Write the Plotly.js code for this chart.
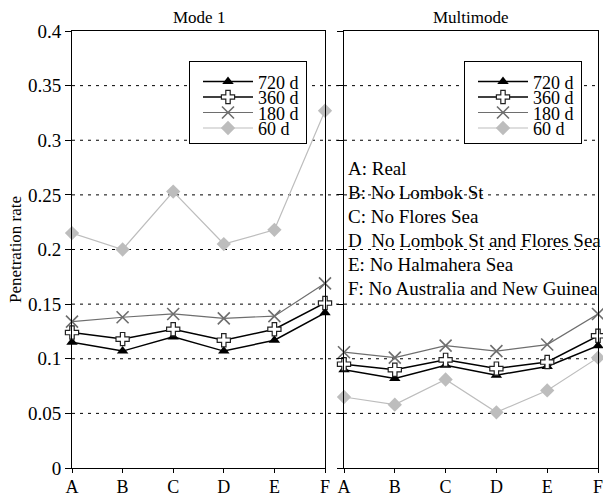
<!DOCTYPE html>
<html>
<head>
<meta charset="utf-8">
<script src="https://cdn.plot.ly/plotly-3.0.1.min.js"></script>
<style>html,body{margin:0;padding:0;background:#fff;}#chart{width:603px;height:500px;}</style>
</head>
<body>
<div id="chart"></div>
<script>
const categories = ['A', 'B', 'C', 'D', 'E', 'F'];
const seriesNames = ['720 d', '360 d', '180 d', '60 d'];

const mode1_720 = [0.115, 0.107, 0.120, 0.107, 0.117, 0.142];
const mode1_360 = [0.124, 0.118, 0.127, 0.117, 0.127, 0.151];
const mode1_180 = [0.134, 0.138, 0.141, 0.137, 0.139, 0.169];
const mode1_60  = [0.215, 0.200, 0.253, 0.205, 0.218, 0.327];

const multi_720 = [0.090, 0.082, 0.094, 0.085, 0.093, 0.112];
const multi_360 = [0.095, 0.090, 0.099, 0.091, 0.097, 0.121];
const multi_180 = [0.106, 0.101, 0.112, 0.107, 0.113, 0.141];
const multi_60  = [0.065, 0.058, 0.081, 0.051, 0.071, 0.101];

const panelTitles = ['Mode 1', 'Multimode'];
const caseLabels = ['A: Real', 'B: No Lombok St', 'C: No Flores Sea',
  'D\u00a0\u00a0No Lombok St and Flores Sea', 'E: No Halmahera Sea', 'F: No Australia and New Guinea'];
const yTicks = [0, 0.05, 0.1, 0.15, 0.2, 0.25, 0.3, 0.35, 0.4];
const gridValues = [0.05, 0.1, 0.15, 0.2, 0.25, 0.3, 0.35];

const FONT = 'Liberation Serif';

const styles = [
  {line: {color: '#000', width: 1.5}, marker: {symbol: 'triangle-up', size: 10, color: '#000'}},
  {line: {color: '#000', width: 1.5}, marker: {symbol: 'cross', size: 11, color: '#fff', line: {color: '#222', width: 1.2}}},
  {line: {color: '#6e6e6e', width: 1.2}, marker: {symbol: 'x-thin-open', size: 12, color: '#6e6e6e', line: {color: '#6e6e6e', width: 1.6}}},
  {line: {color: '#bdbdbd', width: 1.2}, marker: {symbol: 'diamond', size: 11, color: '#bdbdbd'}}
];

const mode1 = [mode1_720, mode1_360, mode1_180, mode1_60];
const multi = [multi_720, multi_360, multi_180, multi_60];

const traces = [];
mode1.forEach((vals, i) => {
  traces.push({x: categories, y: vals, type: 'scatter', mode: 'lines+markers', name: seriesNames[i],
    xaxis: 'x', yaxis: 'y', legend: 'legend', cliponaxis: false,
    line: styles[i].line, marker: styles[i].marker});
});
multi.forEach((vals, i) => {
  traces.push({x: categories, y: vals, type: 'scatter', mode: 'lines+markers', name: seriesNames[i],
    xaxis: 'x2', yaxis: 'y2', legend: 'legend2', cliponaxis: false,
    line: styles[i].line, marker: styles[i].marker});
});

const L = 72, T = 31, W = 603, H = 500, B = 32, R = 5;
const plotW = W - L - R, plotH = H - T - B;
const py = p => (H - B - p) / plotH;

const axisCommon = {
  showline: true, linecolor: '#000', linewidth: 1, mirror: true,
  ticks: 'outside', ticklen: 6, tickcolor: '#000', tickwidth: 1,
  showgrid: false, zeroline: false,
  tickfont: {family: FONT, size: 19, color: '#000'}
};
const xAxisExtra = {ticklen: 4, ticklabelstandoff: -2, tickfont: {family: FONT, size: 18, color: '#000'}};

const shapes = gridValues.map(v => ({
  type: 'line', xref: 'paper', yref: 'y', x0: 0, x1: 1, y0: v, y1: v,
  line: {color: '#000', width: 1, dash: '3px,5px'}, layer: 'below'
}));

const annotations = [];
panelTitles.forEach((t, i) => {
  annotations.push({text: t, xref: i === 0 ? 'x domain' : 'x2 domain', yref: 'paper',
    x: 0.5, y: 1, yanchor: 'bottom', yshift: 2, showarrow: false,
    font: {family: FONT, size: 17, color: '#000'}});
});
const caseY = [168, 192, 216, 240, 264, 288];
caseLabels.forEach((t, i) => {
  annotations.push({text: t, xref: 'x2 domain', yref: 'paper', x: 0, xshift: 2, xanchor: 'left',
    y: py(caseY[i]), yanchor: 'middle', showarrow: false,
    font: {family: FONT, size: 19, color: '#000'}});
});

const legendCommon = {
  bgcolor: '#fff', bordercolor: '#000', borderwidth: 1,
  font: {family: FONT, size: 18, color: '#000'},
  xanchor: 'right', yanchor: 'top', tracegroupgap: 0, itemwidth: 50
};

const layout = {
  width: W, height: H,
  margin: {l: L, r: R, t: T, b: B},
  paper_bgcolor: '#fff', plot_bgcolor: 'rgba(0,0,0,0)',
  font: {family: FONT, size: 17, color: '#000'},
  showlegend: true,
  legend: Object.assign({}, legendCommon, {x: (307 - L) / plotW, y: py(61)}),
  legend2: Object.assign({}, legendCommon, {x: (582 - L) / plotW, y: py(61)}),
  xaxis: Object.assign({}, axisCommon, xAxisExtra, {domain: [0, (325 - L) / plotW], type: 'category',
    categoryarray: categories, range: [0, categories.length - 1], anchor: 'y'}),
  xaxis2: Object.assign({}, axisCommon, xAxisExtra, {domain: [(344 - L) / plotW, 1], type: 'category',
    categoryarray: categories, range: [0, categories.length - 1], anchor: 'y2'}),
  yaxis: Object.assign({}, axisCommon, {range: [0, 0.4], tickvals: yTicks, anchor: 'x',
    title: {text: 'Penetration rate', font: {family: FONT, size: 17, color: '#000'}, standoff: 2}}),
  yaxis2: Object.assign({}, axisCommon, {range: [0, 0.4], tickvals: yTicks, showticklabels: false, anchor: 'x2'}),
  shapes: shapes,
  annotations: annotations
};

// Compact legend rows (the reference legend uses tight line spacing)
const legendBoxes = {legend: {right: 307, top: 61}, legend2: {right: 582, top: 61}};
const legendBoxW = 118, legendBoxH = 83;
const legendRowY = [20.5, 36, 51.5, 67];
const legendShiftX = 8;

Plotly.newPlot('chart', traces, layout, {displayModeBar: false, staticPlot: true}).then(gd => {
  try {
    Object.keys(legendBoxes).forEach(id => {
      const g = gd.querySelector('g.infolayer > g.' + id);
      if (!g) return;
      g.querySelectorAll('[clip-path]').forEach(el => el.removeAttribute('clip-path'));
      g.querySelectorAll('g.traces').forEach((it, i) => {
        const m = /translate\(\s*([-\d.e]+)[\s,]+([-\d.e]+)\s*\)/.exec(it.getAttribute('transform') || '');
        const x = (m ? parseFloat(m[1]) : 0) + legendShiftX;
        it.setAttribute('transform', 'translate(' + x + ',' + legendRowY[i] + ')');
      });
      const bg = g.querySelector('rect.bg');
      if (bg) { bg.setAttribute('height', legendBoxH - 1); bg.setAttribute('width', legendBoxW - 1); }
      g.setAttribute('transform', 'translate(' + (legendBoxes[id].right - legendBoxW) + ',' + legendBoxes[id].top + ')');
    });
  } catch (e) { console.error(e); }
});
</script>
</body>
</html>
